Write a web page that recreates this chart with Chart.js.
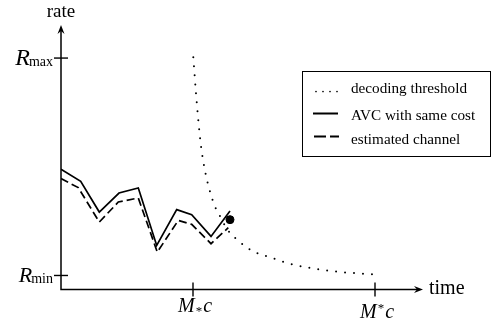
<!DOCTYPE html>
<html>
<head>
<meta charset="utf-8">
<script src="https://cdn.jsdelivr.net/npm/chart.js@4.4.1/dist/chart.umd.min.js"></script>
<style>
  html, body { margin: 0; padding: 0; background: #fff; }
  #wrap { width: 492px; height: 322px; }
</style>
</head>
<body>
<div id="wrap"><canvas id="rateChart" width="492" height="322"></canvas></div>
<script>
// values (time / rate in arbitrary units, origin at the axes corner)
const avcTime = [0, 19.7, 38.3, 58, 77.3, 95.7, 115.7, 130.7, 150, 169];
const avcRate = [120, 108, 77.3, 96.3, 101.3, 44, 79.7, 74.7, 53, 78.3];

const estTime = [0, 17.3, 38.3, 57.3, 77.3, 96.3, 117.3, 130.7, 150, 167.3];
const estRate = [110.7, 101.7, 67.3, 87.3, 91.3, 37.3, 69, 65, 45.7, 61.7];

const thrTime = [132.3, 133, 135, 137.3, 140, 144.3, 148.3, 153.7, 157.7, 166.3, 179, 193, 209, 229, 272, 314];
const thrRate = [231.7, 222.3, 195.7, 169, 143, 117, 100.3, 83.3, 75.7, 60, 47.3, 37.7, 32.3, 25.7, 18.3, 15];

const dotPoint = { x: 169, y: 69.7 };

const rMax = 231, rMin = 14;
const mLow = 132, mHigh = 314;
const timeMax = 362, rateMax = 264;

const legendLabels = ["decoding threshold", "AVC with same cost", "estimated channel"];

const pts = (xs, ys) => xs.map((x, i) => ({ x: x, y: ys[i] }));
const serif = "'Liberation Serif', 'DejaVu Serif', serif";

// axes, arrows, ticks, labels and the boxed legend
const sketchPlugin = {
  id: "sketch",
  afterDraw(chart) {
    const c = chart.ctx;
    const xs = chart.scales.x, ys = chart.scales.y;
    const x0 = xs.getPixelForValue(0), y0 = ys.getPixelForValue(0);
    const xEnd = xs.getPixelForValue(timeMax), yEnd = ys.getPixelForValue(rateMax);

    c.save();
    c.strokeStyle = "#000";
    c.fillStyle = "#000";
    c.lineWidth = 1.5;
    c.lineCap = "butt";

    // axis lines
    c.beginPath();
    c.moveTo(x0, yEnd + 4);
    c.lineTo(x0, y0);
    c.lineTo(xEnd - 4, y0);
    c.stroke();

    // arrow heads
    c.beginPath();
    c.moveTo(x0, yEnd);
    c.lineTo(x0 - 3.5, yEnd + 9);
    c.lineTo(x0, yEnd + 6);
    c.lineTo(x0 + 3.5, yEnd + 9);
    c.closePath();
    c.fill();
    c.beginPath();
    c.moveTo(xEnd, y0);
    c.lineTo(xEnd - 9, y0 - 3.5);
    c.lineTo(xEnd - 6, y0);
    c.lineTo(xEnd - 9, y0 + 3.5);
    c.closePath();
    c.fill();

    // tick marks
    c.lineWidth = 1.4;
    [rMax, rMin].forEach(v => {
      const py = ys.getPixelForValue(v);
      c.beginPath(); c.moveTo(x0 - 7, py); c.lineTo(x0 + 7, py); c.stroke();
    });
    [mLow, mHigh].forEach(v => {
      const px = xs.getPixelForValue(v);
      c.beginPath(); c.moveTo(px, y0 - 7); c.lineTo(px, y0 + 7); c.stroke();
    });

    // axis titles
    c.textBaseline = "alphabetic";
    c.font = "19px " + serif;
    c.textAlign = "center";
    c.fillText("rate", x0, 17);
    c.font = "20px " + serif;
    c.textAlign = "left";
    c.fillText("time", xEnd + 6, y0 + 4.5);

    // R_max / R_min labels (right aligned against the tick)
    const rLabel = (sub, v, size) => {
      const py = ys.getPixelForValue(v);
      c.font = "14px " + serif;
      const wSub = c.measureText(sub).width;
      c.font = "italic " + size + "px " + serif;
      const wR = c.measureText("R").width;
      const right = x0 - 8;
      c.fillText("R", right - wSub - wR + 1, py + 7);
      c.font = "14px " + serif;
      c.fillText(sub, right - wSub, py + 7.5);
    };
    rLabel("max", rMax, 24);
    rLabel("min", rMin, 22);

    // M_*c and M^*c labels
    const mLabel = (v, sup, base) => {
      const px = xs.getPixelForValue(v);
      c.font = "italic 20px " + serif;
      const wM = c.measureText("M").width;
      const wC = c.measureText("c").width;
      c.font = "13px " + serif;
      const wS = c.measureText("*").width;
      const left = px - (wM + wS + wC + 2) / 2 + 2;
      c.font = "italic 20px " + serif;
      c.fillText("M", left, base);
      c.font = "13px " + serif;
      c.fillText("*", left + wM + 1, sup ? base - 6 : base + 3);
      c.font = "italic 20px " + serif;
      c.fillText("c", left + wM + wS + 2, base);
    };
    mLabel(mLow, false, 312);
    mLabel(mHigh, true, 317.5);

    // legend box
    c.lineWidth = 1;
    c.strokeRect(302.5, 71.5, 188, 85);
    const base = [93, 119.5, 143.5];
    c.font = "15.2px " + serif;
    legendLabels.forEach((t, i) => c.fillText(t, 351, base[i]));
    // sample: dotted
    c.lineWidth = 1.7;
    c.lineCap = "round";
    c.setLineDash([0, 7]);
    c.beginPath(); c.moveTo(316, 91.5); c.lineTo(338, 91.5); c.stroke();
    // sample: solid
    c.lineCap = "butt";
    c.setLineDash([]);
    c.lineWidth = 2;
    c.beginPath(); c.moveTo(313, 113.5); c.lineTo(338, 113.5); c.stroke();
    // sample: dashed
    c.setLineDash([12, 4]);
    c.beginPath(); c.moveTo(314, 136.5); c.lineTo(339, 136.5); c.stroke();
    c.restore();
  }
};

const ctx = document.getElementById("rateChart").getContext("2d");
new Chart(ctx, {
  type: "line",
  data: {
    datasets: [
      {
        label: legendLabels[0],
        data: pts(thrTime, thrRate),
        borderColor: "#000",
        borderWidth: 2,
        borderDash: [0, 9],
        borderCapStyle: "round",
        cubicInterpolationMode: "monotone",
        pointRadius: 0,
        fill: false
      },
      {
        label: legendLabels[1],
        data: pts(avcTime, avcRate),
        borderColor: "#000",
        borderWidth: 1.7,
        pointRadius: 0,
        tension: 0,
        fill: false
      },
      {
        label: legendLabels[2],
        data: pts(estTime, estRate),
        borderColor: "#000",
        borderWidth: 1.7,
        borderDash: [8, 4],
        pointRadius: 0,
        tension: 0,
        fill: false
      },
      {
        type: "scatter",
        label: "end",
        data: [dotPoint],
        pointRadius: 4,
        pointBackgroundColor: "#000",
        pointBorderColor: "#000",
        showLine: false
      }
    ]
  },
  options: {
    responsive: false,
    animation: false,
    layout: { padding: { left: 61, right: 69, top: 25, bottom: 32.5 } },
    plugins: { legend: { display: false }, tooltip: { enabled: false } },
    scales: {
      x: { type: "linear", min: 0, max: timeMax, display: false },
      y: { type: "linear", min: 0, max: rateMax, display: false }
    }
  },
  plugins: [sketchPlugin]
});
</script>
</body>
</html>
